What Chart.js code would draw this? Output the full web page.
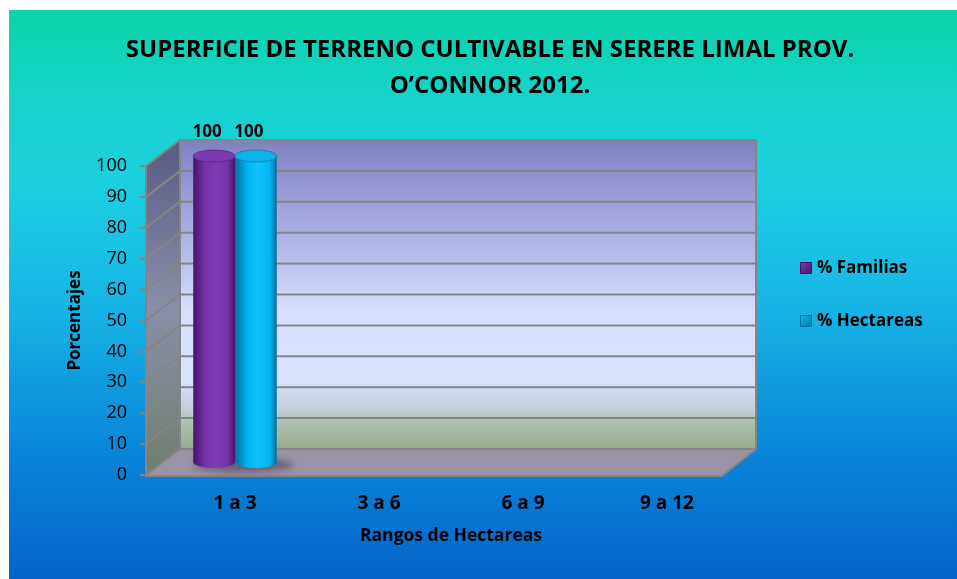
<!DOCTYPE html>
<html>
<head>
<meta charset="utf-8">
<script src="https://cdn.jsdelivr.net/npm/chart.js@4.4.0/dist/chart.umd.min.js"></script>
<style>
  html, body { margin: 0; padding: 0; background: #fff; }
  #wrap { width: 957px; height: 579px; }
</style>
</head>
<body>
<div id="wrap"><canvas id="chart"></canvas></div>
<script>
// data
const categories = ['1 a 3', '3 a 6', '6 a 9', '9 a 12'];
const familias = [100, null, null, null];
const hectareas = [100, null, null, null];
const seriesNames = ['% Familias', '% Hectareas'];
const yMin = 0, yMax = 100, yStep = 10;
const titleLines = ['SUPERFICIE DE TERRENO CULTIVABLE EN SERERE LIMAL PROV.', 'O\u2019CONNOR 2012.'];

const FONT = "'Open Sans', sans-serif";
const DX = 17, DY = 13; // half depth of the 3D box

const barColors = [
    { dark: '#46156a', mid: '#7434a8', light: '#7e3cb2', top: '#7c3ab0', legend: '#7030a0' },
    { dark: '#00709e', mid: '#00b6f2', light: '#12c0fc', top: '#0cb2ea', legend: '#00b0f0' }
];

function cylinder(ctx, cx, top, bottom, w, c) {
    const rx = w / 2, ry = 6;
    const g = ctx.createLinearGradient(cx - rx, 0, cx + rx, 0);
    g.addColorStop(0, c.dark);
    g.addColorStop(0.3, c.mid);
    g.addColorStop(0.55, c.light);
    g.addColorStop(0.82, c.mid);
    g.addColorStop(1, c.dark);
    ctx.beginPath();
    ctx.moveTo(cx - rx, top);
    ctx.lineTo(cx - rx, bottom);
    ctx.ellipse(cx, bottom, rx, ry, 0, Math.PI, 0, true);
    ctx.lineTo(cx + rx, top);
    ctx.ellipse(cx, top, rx, ry, 0, 0, Math.PI, false);
    ctx.closePath();
    ctx.fillStyle = g;
    ctx.fill();
    ctx.beginPath();
    ctx.ellipse(cx, top, rx, ry, 0, 0, Math.PI * 2);
    ctx.fillStyle = c.top;
    ctx.fill();
    ctx.strokeStyle = c.dark;
    ctx.lineWidth = 0.6;
    ctx.stroke();
}

const box3d = {
    id: 'box3d',
    beforeDraw(chart) {
        const { ctx, width, height } = chart;
        ctx.save();
        ctx.fillStyle = '#fff';
        ctx.fillRect(0, 0, width, height);
        const g = ctx.createLinearGradient(0, 10, 0, height);
        g.addColorStop(0, '#0ad4aa');
        g.addColorStop(0.15, '#16d3c8');
        g.addColorStop(0.3, '#1ccfe0');
        g.addColorStop(0.5, '#18b8e6');
        g.addColorStop(0.75, '#0a8adb');
        g.addColorStop(1, '#0564c8');
        ctx.fillStyle = g;
        ctx.fillRect(9, 10, width - 9, height - 10);
        ctx.restore();
    },
    beforeDatasetsDraw(chart) {
        const { ctx, chartArea: ca } = chart;
        const y = chart.scales.y;
        const fl = ca.left - DX, fr = ca.right - DX, bl = ca.left + DX, br = ca.right + DX;
        const ft = y.getPixelForValue(yMax), fb = y.getPixelForValue(yMin);
        const bt = ft - 2 * DY, bb = fb - 2 * DY;
        ctx.save();

        // back wall
        let g = ctx.createLinearGradient(0, bt, 0, bb);
        g.addColorStop(0, '#8080c2');
        g.addColorStop(0.35, '#b2b8e8');
        g.addColorStop(0.55, '#d6defc');
        g.addColorStop(0.78, '#d8e2fe');
        g.addColorStop(0.88, '#c0ccd4');
        g.addColorStop(0.91, '#b0c2b4');
        g.addColorStop(1, '#96ac8a');
        ctx.fillStyle = g;
        ctx.fillRect(bl, bt, br - bl, bb - bt);

        // side wall
        g = ctx.createLinearGradient(0, bt, 0, fb);
        g.addColorStop(0, '#585a82');
        g.addColorStop(0.5, '#8a8fa8');
        g.addColorStop(1, '#6f7f6e');
        ctx.beginPath();
        ctx.moveTo(fl, ft); ctx.lineTo(bl, bt); ctx.lineTo(bl, bb); ctx.lineTo(fl, fb);
        ctx.closePath();
        ctx.fillStyle = g;
        ctx.fill();

        // floor
        ctx.beginPath();
        ctx.moveTo(fl, fb); ctx.lineTo(bl, bb); ctx.lineTo(br, bb); ctx.lineTo(fr, fb);
        ctx.closePath();
        ctx.fillStyle = '#9b92a3';
        ctx.fill();

        // grid lines
        ctx.strokeStyle = '#858585';
        ctx.lineWidth = 2;
        y.ticks.forEach(t => {
            const yf = y.getPixelForValue(t.value), yb = yf - 2 * DY;
            ctx.beginPath();
            ctx.moveTo(fl - 6, yf); ctx.lineTo(fl, yf); ctx.lineTo(bl, yb); ctx.lineTo(br, yb);
            ctx.stroke();
        });
        ctx.beginPath();
        ctx.moveTo(fl, ft); ctx.lineTo(fl, fb + 1); ctx.lineTo(fr, fb + 1); ctx.lineTo(br, bb);
        ctx.moveTo(bl, bt); ctx.lineTo(bl, bb);
        ctx.moveTo(br, bt); ctx.lineTo(br, bb);
        ctx.stroke();

        // bar shadows on the floor
        const m0 = chart.getDatasetMeta(0), m1 = chart.getDatasetMeta(1);
        categories.forEach((c, i) => {
            if (familias[i] == null && hectareas[i] == null) return;
            const a = m0.data[i], b = m1.data[i];
            const cx = (a.x + b.x) / 2 + 8;
            ctx.beginPath();
            ctx.ellipse(cx, b.base - DY + 3, a.width + 8, 7, 0, 0, Math.PI * 2);
            ctx.fillStyle = 'rgba(70,55,85,0.55)';
            ctx.filter = 'blur(3px)';
            ctx.fill();
            ctx.filter = 'none';
        });
        ctx.restore();
    },
    beforeDatasetDraw() {
        return false;
    },
    afterDatasetsDraw(chart) {
        const { ctx } = chart;
        ctx.save();
        const series = [familias, hectareas];
        series.forEach((vals, d) => {
            const meta = chart.getDatasetMeta(d);
            meta.data.forEach((el, i) => {
                if (vals[i] == null) return;
                cylinder(ctx, el.x, el.y - DY + 3, el.base - DY, el.width, barColors[d]);
            });
        });
        ctx.fillStyle = '#000';
        ctx.font = "bold 17px " + FONT;
        ctx.textAlign = 'center';
        ctx.textBaseline = 'middle';
        series.forEach((vals, d) => {
            const meta = chart.getDatasetMeta(d);
            meta.data.forEach((el, i) => {
                if (vals[i] == null) return;
                ctx.fillText(String(vals[i]), el.x - 7, el.y - DY - 21);
            });
        });
        ctx.restore();
    },
    afterDraw(chart) {
        const { ctx } = chart;
        ctx.save();
        // title
        ctx.fillStyle = '#000';
        ctx.textAlign = 'center';
        ctx.textBaseline = 'middle';
        ctx.font = "bold 24px " + FONT;
        titleLines.forEach((t, i) => ctx.fillText(t, 490, 50 + i * 36));
        // legend
        ctx.textAlign = 'left';
        ctx.font = "bold 17px " + FONT;
        seriesNames.forEach((name, i) => {
            const yy = 268 + i * 53;
            const c = barColors[i];
            const g = ctx.createLinearGradient(800, yy - 6, 812, yy + 6);
            g.addColorStop(0, c.light);
            g.addColorStop(1, c.dark);
            ctx.fillStyle = g;
            ctx.fillRect(800, yy - 6, 12, 12);
            ctx.strokeStyle = c.dark;
            ctx.lineWidth = 1;
            ctx.strokeRect(800.5, yy - 5.5, 11, 11);
            ctx.fillStyle = '#000';
            ctx.fillText(name, 817, yy);
        });
        ctx.restore();
    }
};

new Chart(document.getElementById('chart'), {
    type: 'bar',
    data: {
        labels: categories,
        datasets: [
            { label: seriesNames[0], data: familias, backgroundColor: barColors[0].legend },
            { label: seriesNames[1], data: hectareas, backgroundColor: barColors[1].legend }
        ]
    },
    options: {
        responsive: true,
        maintainAspectRatio: false,
        animation: false,
        layout: { padding: { left: 9, top: 166, right: 218, bottom: 0 } },
        datasets: { bar: { categoryPercentage: 0.58, barPercentage: 1 } },
        scales: {
            x: {
                grid: { display: false, drawTicks: false },
                border: { display: false },
                ticks: { color: '#000', font: { family: FONT, size: 19, weight: 'bold' }, padding: 17 },
                title: { display: true, text: 'Rangos de Hectareas', color: '#000',
                         font: { family: FONT, size: 17.5, weight: 'bold' }, padding: { top: 0, bottom: 32 } },
                afterFit: s => { s.height = 104; }
            },
            y: {
                min: yMin,
                max: yMax,
                grid: { display: false, drawTicks: false },
                border: { display: false },
                ticks: { stepSize: yStep, color: '#000', font: { family: FONT, size: 18 }, padding: 36 },
                title: { display: true, text: 'Porcentajes', color: '#000',
                         font: { family: FONT, size: 17, weight: 'bold' }, padding: { top: 56, bottom: 0 } },
                afterFit: s => { s.width = 154; }
            }
        },
        plugins: {
            legend: { display: false },
            tooltip: { enabled: false }
        }
    },
    plugins: [box3d]
});
</script>
</body>
</html>
